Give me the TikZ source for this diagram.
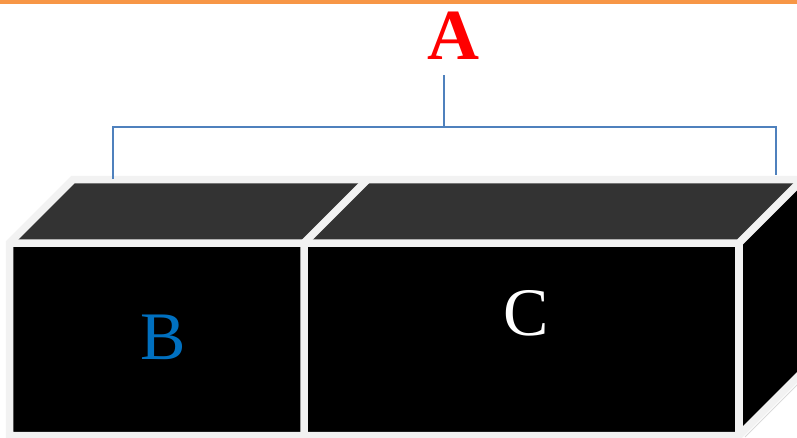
\documentclass[tikz,border=0pt]{standalone}
\usepackage{fontspec}
\setmainfont{Liberation Serif}
\definecolor{topbar}{HTML}{F79646}
\definecolor{edgegray}{HTML}{F2F2F2}
\definecolor{topface}{HTML}{333333}
\definecolor{bracecol}{HTML}{4F81BD}
\definecolor{labelblue}{HTML}{0070C0}
\begin{document}
\begin{tikzpicture}[x=1pt,y=-1pt,
  cubeedge/.style={draw=edgegray, line width=7.5pt, line join=miter, line cap=butt},
  bracket/.style={draw=bracecol, line width=2pt},
  biglabel/.style={inner sep=0pt, font=\fontsize{68}{68}\selectfont},
]
\useasboundingbox (0,0) rectangle (797,437);
\begin{scope}
\clip (0,0) rectangle (797,437);
% orange rule along the top
\fill[topbar] (0,0) rectangle (797,3.5);

% faint drop shadow under the right face
\draw[gray!30, line width=1pt] (745,437) -- (805,377);

% faces of the block
\fill[black] (9.5,243) rectangle (739,435.5);
\fill[topface] (9.5,243) -- (73,179.5) -- (802.5,179.5) -- (739,243) -- cycle;
\fill[black] (739,243) -- (802.5,179.5) -- (802.5,372) -- (739,435.5) -- cycle;

% light edges of the block
\draw[cubeedge] (9.5,435.5) -- (9.5,243) -- (73,179.5) -- (802.5,179.5)
  -- (802.5,372) -- (739,435.5) -- cycle;
\draw[cubeedge] (9.5,243) -- (739,243) -- (802.5,179.5);
\draw[cubeedge] (739,243) -- (739,435.5);
\draw[cubeedge] (304,435.5) -- (304,243) -- (367.5,179.5);
\end{scope}

% labels
\node[inner sep=0pt, text=red, font=\fontsize{72}{72}\selectfont\bfseries] (A) at (453,36) {A};
\node[biglabel, text=labelblue] (B) at (163,337.5) {B};
\node[biglabel, text=white] (C) at (526,313) {C};

% bracket spanning the block
\coordinate (brTop) at (444,75);
\coordinate (brMid) at (444,127);
\coordinate (brLt) at (113,127);
\coordinate (brRt) at (776,127);
\coordinate (brL) at (113,179);
\coordinate (brR) at (776,175);
\draw[bracket] (brL) -- (brLt) -- (brRt) -- (brR);
\draw[bracket] (brTop) -- (brMid);
\end{tikzpicture}
\end{document}
